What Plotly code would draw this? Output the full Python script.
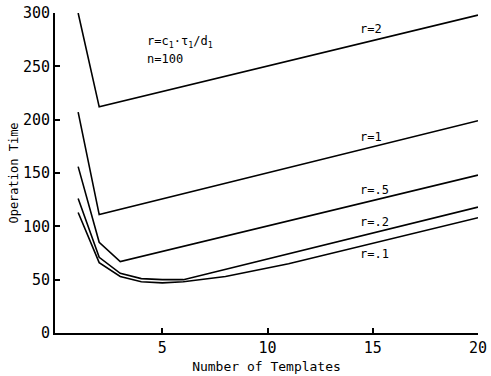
import plotly.graph_objects as go

# Data
x_r2 = [1, 2, 20]
y_r2 = [300, 212, 298]

x_r1 = [1, 2, 20]
y_r1 = [207, 111, 199]

x_r05 = [1, 2, 3, 20]
y_r05 = [156, 85, 67, 148]

x_r02 = [1, 2, 3, 4, 5, 6, 20]
y_r02 = [126, 71, 56, 51, 50, 50, 118]

x_r01 = [1, 2, 3, 4, 5, 6, 8, 11, 20]
y_r01 = [113, 66, 53, 48, 47, 48, 53, 65, 108]

series = [
    ("r=2", x_r2, y_r2),
    ("r=1", x_r1, y_r1),
    ("r=.5", x_r05, y_r05),
    ("r=.2", x_r02, y_r02),
    ("r=.1", x_r01, y_r01),
]

label_text = ["r=2", "r=1", "r=.5", "r=.2", "r=.1"]
label_x = [14.9, 14.9, 15.1, 15.1, 15.1]
label_y = [285, 184, 134, 104, 74]

x_ticks = [5, 10, 15, 20]
y_ticks = [0, 50, 100, 150, 200, 250, 300]

FONT = "DejaVu Sans Mono"

fig = go.Figure()
for name, xs, ys in series:
    fig.add_trace(go.Scatter(x=xs, y=ys, mode="lines", name=name,
                             line=dict(color="black", width=1.6),
                             cliponaxis=False, showlegend=False, hoverinfo="skip"))

for t, lx, ly in zip(label_text, label_x, label_y):
    fig.add_annotation(x=lx, y=ly, text=t, showarrow=False,
                       font=dict(family=FONT, size=12, color="black"))

fig.add_annotation(x=4.2, y=273, xanchor="left", text="r=c<sub>1</sub>·τ<sub>1</sub>/d<sub>1</sub>",
                   showarrow=False, font=dict(family=FONT, size=12, color="black"))
fig.add_annotation(x=4.2, y=257, xanchor="left", text="n=100",
                   showarrow=False, font=dict(family=FONT, size=12, color="black"))

fig.update_layout(
    width=491, height=376,
    margin=dict(l=55, r=13, t=13, b=43),
    paper_bgcolor="white", plot_bgcolor="white",
    font=dict(family=FONT, color="black"),
)
fig.update_xaxes(range=[-0.1, 20], tickvals=x_ticks, ticks="inside", ticklen=5,
                 tickcolor="black", tickwidth=1.5, showline=True, linecolor="black", linewidth=2,
                 showgrid=False, zeroline=False, tickfont=dict(size=15), automargin=False,
                 title=dict(text="Number of Templates", font=dict(size=13), standoff=6))
fig.update_yaxes(range=[0, 300], tickvals=y_ticks, ticks="inside", ticklen=5,
                 tickcolor="black", tickwidth=1.5, showline=True, linecolor="black", linewidth=2,
                 showgrid=False, zeroline=False, tickfont=dict(size=15), automargin=False,
                 title=dict(text="Operation Time", font=dict(size=12), standoff=2))

fig.write_html("out.html", config={"displayModeBar": False},
               post_script="document.body.style.margin='0';document.body.style.overflow='hidden';")
